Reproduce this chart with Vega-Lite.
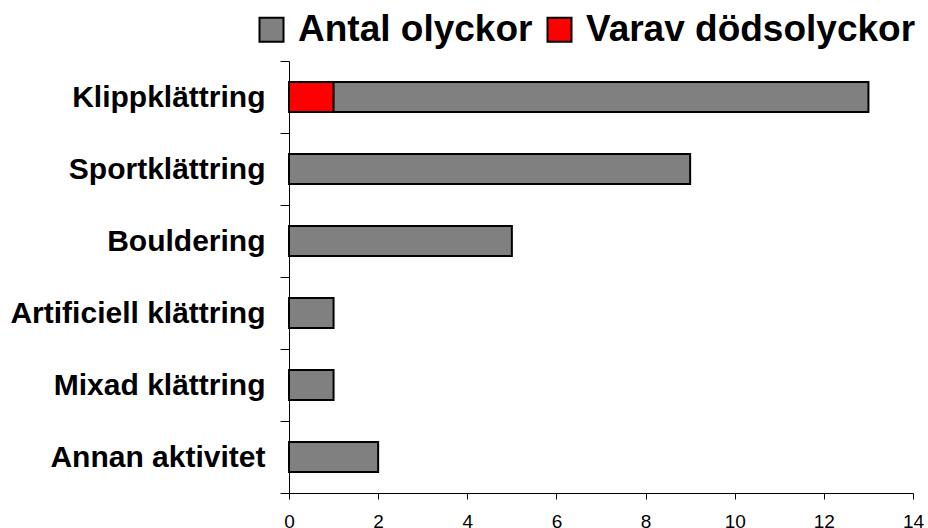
{
  "$schema": "https://vega.github.io/schema/vega-lite/v6.json",
  "autosize": "none",
  "width": 624,
  "height": 432,
  "padding": {"left": 289, "top": 61, "right": 15, "bottom": 35},
  "background": "white",
  "config": {
    "view": {"stroke": null},
    "font": "Liberation Sans"
  },
  "data": {
    "values": [
      {"kategori": "Klippklättring", "serie": "Antal olyckor", "antal": 13},
      {"kategori": "Sportklättring", "serie": "Antal olyckor", "antal": 9},
      {"kategori": "Bouldering", "serie": "Antal olyckor", "antal": 5},
      {"kategori": "Artificiell klättring", "serie": "Antal olyckor", "antal": 1},
      {"kategori": "Mixad klättring", "serie": "Antal olyckor", "antal": 1},
      {"kategori": "Annan aktivitet", "serie": "Antal olyckor", "antal": 2},
      {"kategori": "Klippklättring", "serie": "Varav dödsolyckor", "antal": 1}
    ]
  },
  "mark": {"type": "bar", "height": {"band": 0.42}, "stroke": "black", "strokeWidth": 2},
  "encoding": {
    "y": {
      "field": "kategori",
      "type": "nominal",
      "sort": ["Klippklättring", "Sportklättring", "Bouldering", "Artificiell klättring", "Mixad klättring", "Annan aktivitet"],
      "scale": {"paddingInner": 0, "paddingOuter": 0},
      "axis": {
        "title": null,
        "tickBand": "extent",
        "domainColor": "black",
        "domainWidth": 1,
        "tickColor": "black",
        "tickSize": 9,
        "labelFontSize": 30,
        "labelFontWeight": "bold",
        "labelColor": "black",
        "labelPadding": 15,
        "labelLimit": 400
      }
    },
    "x": {
      "field": "antal",
      "type": "quantitative",
      "stack": null,
      "scale": {"domain": [0, 14], "nice": false},
      "axis": {
        "title": null,
        "values": [0, 2, 4, 6, 8, 10, 12, 14],
        "grid": false,
        "domainColor": "black",
        "tickColor": "black",
        "tickSize": 6,
        "labelFontSize": 19,
        "labelColor": "black",
        "labelPadding": 13,
        "labelFlush": false
      }
    },
    "color": {
      "field": "serie",
      "type": "nominal",
      "scale": {"domain": ["Antal olyckor", "Varav dödsolyckor"], "range": ["#808080", "#ff0000"]},
      "legend": {
        "title": null,
        "orient": "none",
        "direction": "horizontal",
        "legendX": -36,
        "legendY": -50,
        "symbolType": "square",
        "symbolSize": 576,
        "symbolStrokeColor": "black",
        "symbolStrokeWidth": 2,
        "symbolOpacity": 1,
        "labelFontSize": 37,
        "labelFontWeight": "bold",
        "labelColor": "black",
        "labelOffset": 8,
        "columnPadding": 8,
        "labelLimit": 500
      }
    }
  }
}
